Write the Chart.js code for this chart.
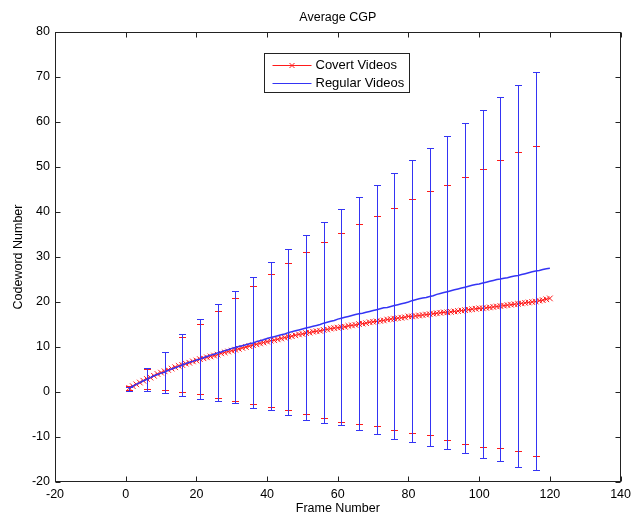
<!DOCTYPE html>
<html>
<head>
<meta charset="utf-8">
<script src="https://cdn.jsdelivr.net/npm/chart.js@4.4.1/dist/chart.umd.min.js"></script>
<style>
html,body{margin:0;padding:0;background:#fff;}
canvas{display:block;}
</style>
</head>
<body>
<canvas id="c" width="636" height="514"></canvas>
<script>
// ---------- data ----------
const chartTitle = "Average CGP";
const xAxisTitle = "Frame Number";
const yAxisTitle = "Codeword Number";
const seriesNames = ["Covert Videos", "Regular Videos"];

const frames = [];
for (let i = 1; i <= 120; i++) frames.push(i);

const covertMean = [
  0.9,1.3,1.7,2.1,2.5,2.9,3.2,3.6,4.0,4.3,
  4.6,4.9,5.2,5.5,5.8,6.0,6.3,6.5,6.8,7.0,
  7.3,7.5,7.7,7.9,8.1,8.3,8.6,8.8,9.0,9.2,
  9.4,9.6,9.8,10.0,10.2,10.4,10.6,10.8,11.0,11.2,
  11.4,11.5,11.7,11.9,12.1,12.3,12.4,12.6,12.8,12.9,
  13.1,13.2,13.4,13.5,13.6,13.8,13.9,14.1,14.2,14.3,
  14.4,14.5,14.7,14.8,14.9,15.1,15.2,15.3,15.5,15.6,
  15.7,15.8,15.9,16.1,16.2,16.3,16.4,16.5,16.6,16.8,
  16.8,16.9,17.0,17.1,17.2,17.3,17.4,17.5,17.6,17.7,
  17.7,17.8,17.9,18.0,18.1,18.2,18.3,18.4,18.5,18.6,
  18.6,18.7,18.8,18.9,19.0,19.1,19.2,19.3,19.4,19.5,
  19.6,19.7,19.8,19.9,20.0,20.1,20.3,20.4,20.6,20.8
];

const regularMean = [
  0.8,1.3,1.7,2.1,2.5,2.8,3.2,3.6,3.9,4.2,
  4.4,4.8,5.1,5.4,5.7,6.0,6.3,6.6,6.8,7.1,
  7.3,7.6,7.9,8.2,8.4,8.7,8.9,9.2,9.4,9.7,
  9.9,10.1,10.3,10.5,10.7,10.9,11.2,11.4,11.6,11.9,
  12.1,12.3,12.5,12.7,12.9,13.2,13.4,13.6,13.8,14.0,
  14.2,14.4,14.6,14.8,15.0,15.3,15.5,15.7,15.9,16.2,
  16.4,16.6,16.8,17.0,17.2,17.4,17.5,17.7,17.9,18.1,
  18.3,18.5,18.7,18.8,19.0,19.2,19.4,19.6,19.8,20.0,
  20.3,20.5,20.7,20.9,21.0,21.2,21.4,21.7,21.9,22.1,
  22.3,22.5,22.7,22.9,23.1,23.3,23.5,23.7,23.9,24.0,
  24.2,24.4,24.6,24.8,25.0,25.1,25.3,25.4,25.6,25.8,
  25.9,26.1,26.3,26.5,26.7,26.9,27.0,27.2,27.4,27.5
];

// error bars (every 5 frames)
const errFrames   = [1,6,11,16,21,26,31,36,41,46,51,56,61,66,71,76,81,86,91,96,101,106,111,116];
const covertHigh  = [1.4,5.2,8.9,12.2,15.2,18.0,20.9,23.5,26.2,28.7,31.1,33.3,35.3,37.3,39.1,41.0,42.8,44.7,46.1,47.8,49.5,51.5,53.3,54.7];
const covertLow   = [0.4,0.6,0.4,-0.1,-0.5,-1.3,-1.9,-2.7,-3.4,-4.1,-4.8,-5.8,-6.6,-7.0,-7.6,-8.4,-9.2,-9.6,-10.7,-11.6,-12.3,-12.5,-13.0,-14.3];
const regularHigh = [1.2,5.3,9.0,12.8,16.2,19.5,22.5,25.6,28.8,31.8,34.8,37.7,40.6,43.3,45.9,48.7,51.5,54.2,57.0,59.8,62.6,65.5,68.2,71.0];
const regularLow  = [0.3,0.15,-0.3,-0.8,-1.6,-1.9,-2.5,-3.6,-4.1,-5.2,-6.3,-6.9,-7.3,-8.5,-9.4,-10.4,-11.0,-12.1,-12.6,-13.6,-14.7,-15.4,-16.6,-17.3];

const xTicks = [-20,0,20,40,60,80,100,120,140];
const yTicks = [-20,-10,0,10,20,30,40,50,60,70,80];

// ---------- styles ----------
const RED = "#ff1a1a";
const BLUE = "#3434f4";
const FONT = '"Liberation Sans", Helvetica, Arial, sans-serif';

const errorBarPlugin = {
  id: "errorBars",
  afterDatasetDraw(chart, args) {
    const ds = chart.data.datasets[args.index];
    if (!ds.errX) return;
    const xs = chart.scales.x, ys = chart.scales.y, ctx = chart.ctx;
    const a = chart.chartArea;
    ctx.save();
    ctx.beginPath();
    ctx.rect(a.left, a.top, a.right - a.left, a.bottom - a.top);
    ctx.clip();
    ctx.strokeStyle = ds.errColor;
    ctx.lineWidth = 1;
    const cap = 3.5;
    ctx.beginPath();
    for (let i = 0; i < ds.errX.length; i++) {
      const px = Math.round(xs.getPixelForValue(ds.errX[i])) + 0.5;
      const ph = Math.round(ys.getPixelForValue(ds.errHigh[i])) + 0.5;
      const pl = Math.round(ys.getPixelForValue(ds.errLow[i])) + 0.5;
      ctx.moveTo(px, ph); ctx.lineTo(px, pl);
      ctx.moveTo(px - cap, ph); ctx.lineTo(px + cap, ph);
      ctx.moveTo(px - cap, pl); ctx.lineTo(px + cap, pl);
    }
    ctx.stroke();
    ctx.restore();
  }
};

const framePlugin = {
  id: "matlabFrame",
  afterDraw(chart) {
    const ctx = chart.ctx, a = chart.chartArea;
    const xs = chart.scales.x, ys = chart.scales.y;
    ctx.save();
    ctx.strokeStyle = "#222";
    ctx.lineWidth = 1;
    const L = Math.round(a.left) + 0.5, R = Math.round(a.right) - 0.5;
    const T = Math.round(a.top) + 0.5, B = Math.round(a.bottom) - 0.5;
    ctx.strokeRect(L, T, R - L, B - T);
    const tl = 5;
    ctx.beginPath();
    xs.ticks.forEach(t => {
      const px = Math.round(xs.getPixelForValue(t.value)) + 0.5;
      ctx.moveTo(px, B); ctx.lineTo(px, B - tl);
      ctx.moveTo(px, T); ctx.lineTo(px, T + tl);
    });
    ys.ticks.forEach(t => {
      const py = Math.round(ys.getPixelForValue(t.value)) + 0.5;
      ctx.moveTo(L, py); ctx.lineTo(L + tl, py);
      ctx.moveTo(R, py); ctx.lineTo(R - tl, py);
    });
    ctx.stroke();

    // title
    ctx.fillStyle = "#000";
    ctx.font = "12.5px " + FONT;
    ctx.textAlign = "center";
    ctx.textBaseline = "middle";
    ctx.fillText(chartTitle, (a.left + a.right) / 2, 18);

    // legend
    ctx.font = "13px " + FONT;
    const bx = Math.round(a.left + 209) + 0.5, by = Math.round(a.top + 21) + 0.5;
    const w0 = ctx.measureText(seriesNames[0]).width;
    const w1 = ctx.measureText(seriesNames[1]).width;
    const tw = Math.max(w0, w1);
    const bw = Math.round(51 + tw + 5), bh = 39;
    ctx.fillStyle = "#fff";
    ctx.fillRect(bx, by, bw, bh);
    ctx.strokeStyle = "#222";
    ctx.strokeRect(bx, by, bw, bh);
    const rows = [by + 11, by + 29];
    chart.data.datasets.forEach((ds, i) => {
      const yy = Math.round(rows[i]) + 0.5;
      ctx.strokeStyle = ds.borderColor;
      ctx.lineWidth = 1;
      ctx.beginPath();
      ctx.moveTo(bx + 8, yy); ctx.lineTo(bx + 47, yy);
      if (ds.pointStyle === "crossRot") {
        const cx = bx + 27.5, r = 2.5;
        ctx.moveTo(cx - r, yy - r); ctx.lineTo(cx + r, yy + r);
        ctx.moveTo(cx - r, yy + r); ctx.lineTo(cx + r, yy - r);
      }
      ctx.stroke();
      ctx.fillStyle = "#000";
      ctx.textAlign = "left";
      ctx.textBaseline = "middle";
      ctx.fillText(ds.label, bx + 51, yy);
    });
    ctx.restore();
  }
};

new Chart(document.getElementById("c"), {
  type: "line",
  data: {
    labels: frames,
    datasets: [
      {
        label: seriesNames[0],
        data: frames.map((f, i) => ({ x: f, y: covertMean[i] })),
        borderColor: RED,
        backgroundColor: RED,
        borderWidth: 1,
        pointStyle: "crossRot",
        pointRadius: 4,
        pointBorderWidth: 1,
        pointBorderColor: RED,
        tension: 0,
        order: 2,
        errX: errFrames, errHigh: covertHigh, errLow: covertLow, errColor: RED
      },
      {
        label: seriesNames[1],
        data: frames.map((f, i) => ({ x: f, y: regularMean[i] })),
        borderColor: BLUE,
        backgroundColor: BLUE,
        borderWidth: 1.5,
        pointRadius: 0,
        tension: 0,
        order: 1,
        errX: errFrames, errHigh: regularHigh, errLow: regularLow, errColor: BLUE
      }
    ]
  },
  options: {
    responsive: false,
    animation: false,
    devicePixelRatio: 1,
    layout: { padding: { top: 32, right: 11, left: 0, bottom: 0 } },
    plugins: {
      legend: { display: false },
      title: { display: false },
      tooltip: { enabled: false }
    },
    scales: {
      x: {
        type: "linear",
        min: -20, max: 140,
        afterFit(s) { s.height = 32; },
        afterBuildTicks(s) { s.ticks = xTicks.map(v => ({ value: v })); },
        grid: { display: false, drawTicks: false },
        border: { display: false },
        ticks: { color: "#000", padding: 5, font: { family: FONT, size: 12.5 }, maxRotation: 0 },
        title: { display: true, text: xAxisTitle, color: "#000", font: { family: FONT, size: 12.5, lineHeight: 1 }, padding: { top: 0, bottom: -1 } }
      },
      y: {
        type: "linear",
        min: -20, max: 80,
        afterFit(s) { s.width = 55; },
        afterBuildTicks(s) { s.ticks = yTicks.map(v => ({ value: v })); },
        grid: { display: false, drawTicks: false },
        border: { display: false },
        ticks: { color: "#000", padding: 5, font: { family: FONT, size: 12.5 } },
        title: { display: true, text: yAxisTitle, color: "#000", font: { family: FONT, size: 12.5, lineHeight: 1 }, padding: { top: 12, bottom: 0 } }
      }
    }
  },
  plugins: [errorBarPlugin, framePlugin]
});
</script>
</body>
</html>
